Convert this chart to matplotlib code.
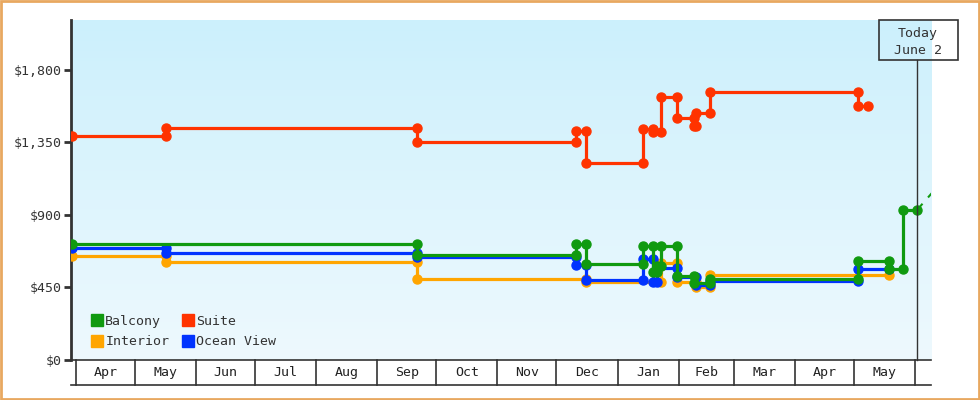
import datetime as dt
import matplotlib
matplotlib.use("Agg")
import matplotlib.pyplot as plt
import matplotlib.dates as mdates
from matplotlib.lines import Line2D
from matplotlib.patches import Rectangle
from matplotlib.ticker import FuncFormatter
import numpy as np

plt.rcParams['font.family'] = ['DejaVu Sans Mono']

# Price history per cabin type (date of change, new price)
balcony_dates = ["2018-03-30", "2018-09-21", "2018-12-11", "2018-12-16", "2019-01-14", "2019-01-19",
                 "2019-01-21", "2019-01-23", "2019-01-31", "2019-02-09", "2019-02-17", "2019-05-03",
                 "2019-05-19", "2019-05-26"]
balcony_prices = [720, 652, 720, 596, 708, 546, 583, 708, 521, 478, 503, 614, 565, 931]
balcony_end = "2019-06-02"

suite_dates = ["2018-03-30", "2018-05-17", "2018-09-21", "2018-12-11", "2018-12-16", "2019-01-14",
               "2019-01-19", "2019-01-23", "2019-01-31", "2019-02-09", "2019-02-10", "2019-02-17",
               "2019-05-03"]
suite_prices = [1390, 1440, 1353, 1421, 1223, 1434, 1415, 1632, 1502, 1452, 1533, 1663, 1577]
suite_end = "2019-05-08"

ocean_dates = ["2018-03-30", "2018-05-17", "2018-09-21", "2018-12-11", "2018-12-16", "2019-01-14",
               "2019-01-19", "2019-01-21", "2019-01-31", "2019-02-10", "2019-02-17", "2019-05-03"]
ocean_prices = [695, 664, 639, 590, 497, 627, 484, 571, 515, 465, 490, 565]
ocean_end = "2019-05-19"

interior_dates = ["2018-03-30", "2018-05-17", "2018-09-21", "2018-12-16", "2019-01-23", "2019-01-31",
                  "2019-02-10", "2019-02-17"]
interior_prices = [645, 608, 503, 484, 602, 484, 453, 527]
interior_end = "2019-05-19"

# forecast after today (dashed)
forecast_dates = ["2019-06-02", "2019-06-12"]
forecast_prices = [931, 1070]

today = "2019-06-02"
month_starts = ["2018-04-01", "2018-05-01", "2018-06-01", "2018-07-01", "2018-08-01", "2018-09-01",
                "2018-10-01", "2018-11-01", "2018-12-01", "2019-01-01", "2019-02-01", "2019-03-01",
                "2019-04-01", "2019-05-01", "2019-06-01"]
month_labels = ["Apr", "May", "Jun", "Jul", "Aug", "Sep", "Oct", "Nov", "Dec", "Jan", "Feb", "Mar",
                "Apr", "May"]
y_ticks = [0, 450, 900, 1350, 1800]

colors = {"Balcony": "#109a10", "Suite": "#ff3300", "Interior": "#ffa500", "Ocean View": "#0033ff"}


def d(s):
    return mdates.date2num(dt.datetime.strptime(s, "%Y-%m-%d"))


def step_xy(dates, prices, end):
    xs = [d(dates[0])]
    ys = [prices[0]]
    for day, p in zip(dates[1:], prices[1:]):
        xs += [d(day), d(day)]
        ys += [ys[-1], p]
    xs.append(d(end))
    ys.append(prices[-1])
    return xs, ys


fig = plt.figure(figsize=(9.8, 4.0), dpi=100)
ax = fig.add_axes([71 / 980, 40 / 400, 860 / 980, 340 / 400])

# gradient background
grad = np.linspace(0, 1, 256).reshape(-1, 1)
cmap = matplotlib.colors.LinearSegmentedColormap.from_list("bg", ["#ccf0fc", "#eef9fe"])
ax.imshow(grad, aspect="auto", cmap=cmap, extent=[0, 1, 0, 1], transform=ax.transAxes, zorder=0)

series = [
    ("Interior", interior_dates, interior_prices, interior_end),
    ("Ocean View", ocean_dates, ocean_prices, ocean_end),
    ("Balcony", balcony_dates, balcony_prices, balcony_end),
    ("Suite", suite_dates, suite_prices, suite_end),
]
for i, (name, ds, ps, end) in enumerate(series):
    xs, ys = step_xy(ds, ps, end)
    ax.plot(xs, ys, color=colors[name], lw=2.3, marker="o", ms=6.5, mec=colors[name],
            zorder=3 + i, solid_joinstyle="miter")

ax.plot([d(x) for x in forecast_dates], forecast_prices, color=colors["Balcony"], lw=1.5,
        ls=(0, (4, 4)), zorder=7)

xmin, xmax = d("2018-03-29") + 0.6, d("2019-06-09") + 0.1
ax.set_xlim(xmin, xmax)
ax.set_ylim(0, 2110)

# today marker
ax.plot([d(today), d(today)], [0, 300 / 340], color="#333333", lw=1,
        transform=ax.get_xaxis_transform(), zorder=8, clip_on=False)
fig.patches.append(Rectangle((879 / 980, 340 / 400), 79 / 980, 40 / 400, transform=fig.transFigure,
                             fill=False, edgecolor="#333333", lw=1.2))
fig.text(918 / 980, 1 - 33 / 400, "Today", ha="center", va="center", fontsize=9.5, color="#333333")
fig.text(918 / 980, 1 - 50 / 400, "June 2", ha="center", va="center", fontsize=9.5, color="#333333")

# axes styling
for s in ["top", "right", "bottom"]:
    ax.spines[s].set_visible(False)
ax.spines["left"].set_color("#333333")
ax.spines["left"].set_linewidth(2)
ax.set_yticks(y_ticks)
ax.yaxis.set_major_formatter(FuncFormatter(lambda v, p: "${:,.0f}".format(v)))
ax.tick_params(axis="y", length=5, width=2, color="#333333", labelcolor="#333333",
               labelsize=9.5, pad=2)
ax.set_xticks([])

# month table under the axis
xt = ax.get_xaxis_transform()
yb = -25 / 340
ax.plot([xmin, xmax], [0, 0], color="#333333", lw=1.2, transform=xt, clip_on=False, zorder=9)
ax.plot([xmin, xmax], [yb, yb], color="#333333", lw=1.2, transform=xt, clip_on=False)
for m in month_starts:
    ax.plot([d(m), d(m)], [0, yb], color="#333333", lw=1.2, transform=xt, clip_on=False)
for a, b, lab in zip(month_starts[:-1], month_starts[1:], month_labels):
    ax.text((d(a) + d(b)) / 2, yb / 2, lab, transform=xt, ha="center", va="center",
            fontsize=9.5, color="#222222")

# legend
order = ["Balcony", "Interior", "Suite", "Ocean View"]
handles = [Line2D([], [], marker="s", ls="none", ms=8.5, color=colors[n]) for n in order]
leg = ax.legend(handles, order, ncol=2, loc="lower left", bbox_to_anchor=(0.01, 0.0),
                frameon=False, handlelength=0.8, handletextpad=0.25, columnspacing=1.0,
                labelspacing=0.55, fontsize=9.5)
for t in leg.get_texts():
    t.set_color("#333333")

# outer border
fig.patches.append(Rectangle((0.001, 0.002), 0.998, 0.996, transform=fig.transFigure,
                             fill=False, edgecolor="#e8a860", lw=2))

fig.savefig("out.png", dpi=100)
